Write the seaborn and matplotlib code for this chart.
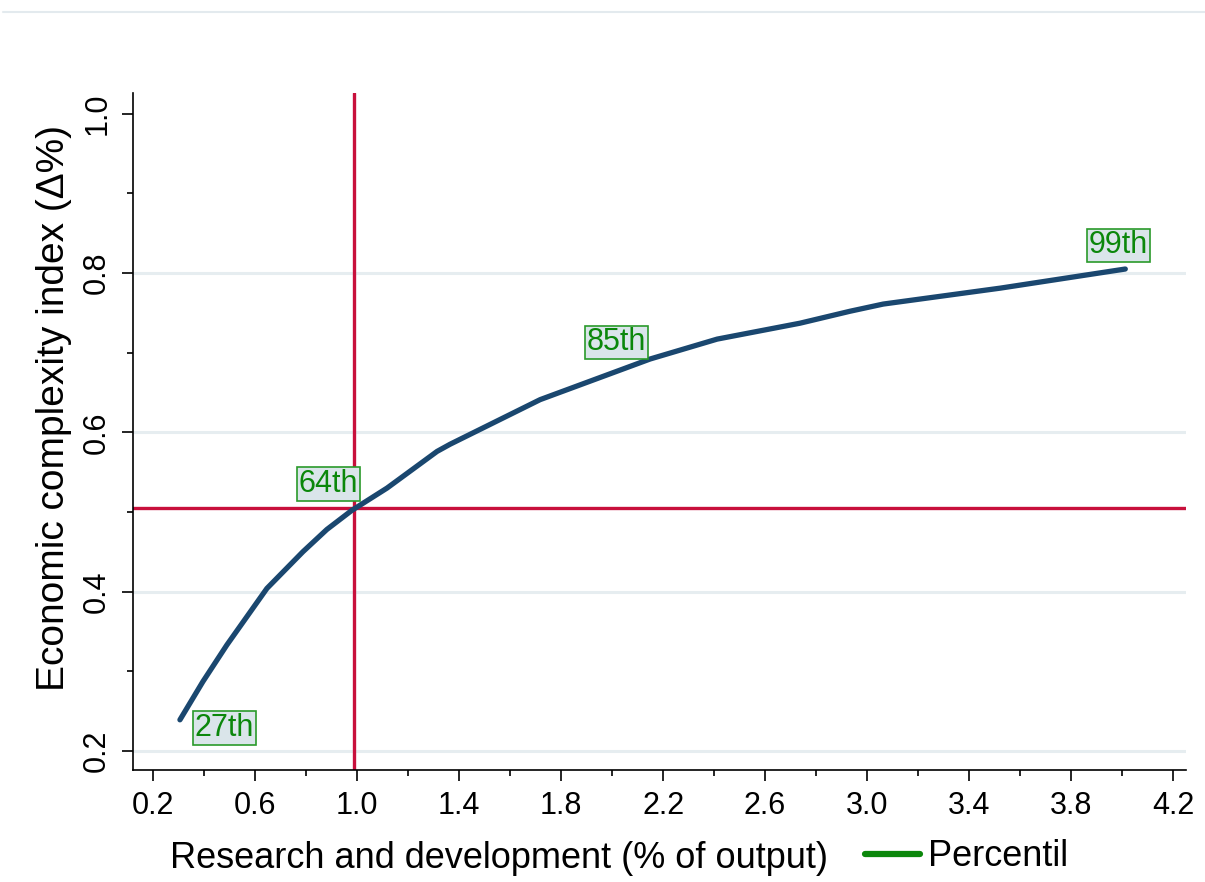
import matplotlib.pyplot as plt
import matplotlib.lines as mlines
from matplotlib.ticker import MultipleLocator
import seaborn as sns
import pandas as pd

# curve
rd = [0.306, 0.396, 0.490, 0.647, 0.788, 0.882, 0.980, 1.118, 1.314, 1.365,
      1.718, 2.149, 2.412, 2.737, 2.933, 3.063, 3.522, 4.012]
eci = [0.239, 0.287, 0.333, 0.404, 0.450, 0.478, 0.502, 0.530, 0.576, 0.585,
       0.641, 0.692, 0.717, 0.737, 0.752, 0.761, 0.781, 0.805]

# percentile labels (index of the point they belong to)
pct_labels = ['27th', '64th', '85th', '99th']
pct_idx = [0, 6, 11, 17]
pct_offset = [(32, -6), (-17, 19), (-24, 12), (-5, 17)]

ref_rd = 0.99
ref_eci = 0.505

x_ticks = [0.2, 0.6, 1.0, 1.4, 1.8, 2.2, 2.6, 3.0, 3.4, 3.8, 4.2]
y_ticks = [0.2, 0.4, 0.6, 0.8, 1.0]

df = pd.DataFrame({'rd': rd, 'eci': eci})

sns.set_theme(style='white')
plt.rcParams['font.family'] = ['Liberation Sans', 'DejaVu Sans']

fig = plt.figure(figsize=(12.05, 8.82), dpi=100)
ax = fig.add_axes([133 / 1205, 1 - 770 / 882, 1053 / 1205, 677 / 882])

# light grid like Stata
for yv in y_ticks[:-1]:
    ax.axhline(yv, color='#e6edf0', lw=2.2, zorder=0)

ax.axvline(ref_rd, color='#c8103c', lw=2.4, zorder=1)
ax.axhline(ref_eci, color='#c8103c', lw=2.4, zorder=1)

sns.lineplot(data=df, x='rd', y='eci', ax=ax, color='#1a476f', lw=3.8,
             zorder=3, legend=False)

for lab, i, off in zip(pct_labels, pct_idx, pct_offset):
    ax.annotate(lab, (rd[i], eci[i]), xytext=off, textcoords='offset points',
                ha='center', va='center', fontsize=22, color='#0b870b', zorder=4,
                bbox=dict(boxstyle='square,pad=0.06', fc='#dae5ea', ec='#2a9a2a', lw=1.2))

ax.set_xlim(0.122, 4.25)
ax.set_ylim(0.176, 1.026)
ax.set_xticks(x_ticks)
ax.set_yticks(y_ticks)
ax.set_xticklabels([f'{v:.1f}' for v in x_ticks])
ax.set_yticklabels([f'{v:.1f}' for v in y_ticks], rotation=90, va='center')
ax.xaxis.set_minor_locator(MultipleLocator(0.2))
ax.yaxis.set_minor_locator(MultipleLocator(0.1))
ax.tick_params(which='major', direction='out', length=8, width=1.2, color='black',
               labelsize=22, labelcolor='black', bottom=True, left=True, pad=7)
ax.tick_params(which='minor', direction='out', length=4, width=1.2, color='black',
               bottom=True, left=True)

for side in ['top', 'right']:
    ax.spines[side].set_visible(False)
for side in ['left', 'bottom']:
    ax.spines[side].set_color('black')
    ax.spines[side].set_linewidth(1.2)

ax.set_xlabel('Research and development (% of output)', fontsize=26, color='black', va='center')
ax.xaxis.set_label_coords(0.348, -(858 - 770) / 677)
ax.set_ylabel('Economic complexity index (Δ%)', fontsize=28, color='black', va='center')
ax.yaxis.set_label_coords(-(133 - 54) / 1053, 0.535)

handle = mlines.Line2D([], [], color='#0b870b', lw=4.5)
fig.legend([handle], ['Percentil'], loc='center left', bbox_to_anchor=(865 / 1205, 1 - 857 / 882),
           frameon=False, fontsize=26, handlelength=1.52, handletextpad=0.22,
           borderaxespad=0, borderpad=0, labelcolor='black')

# thin border line at the top of the graph region
fig.add_artist(mlines.Line2D([3 / 1205, 1], [1 - 12 / 882, 1 - 12 / 882],
                             color='#e3eaee', lw=1.5, transform=fig.transFigure))

fig.savefig('out.png', dpi=100, facecolor='white')
